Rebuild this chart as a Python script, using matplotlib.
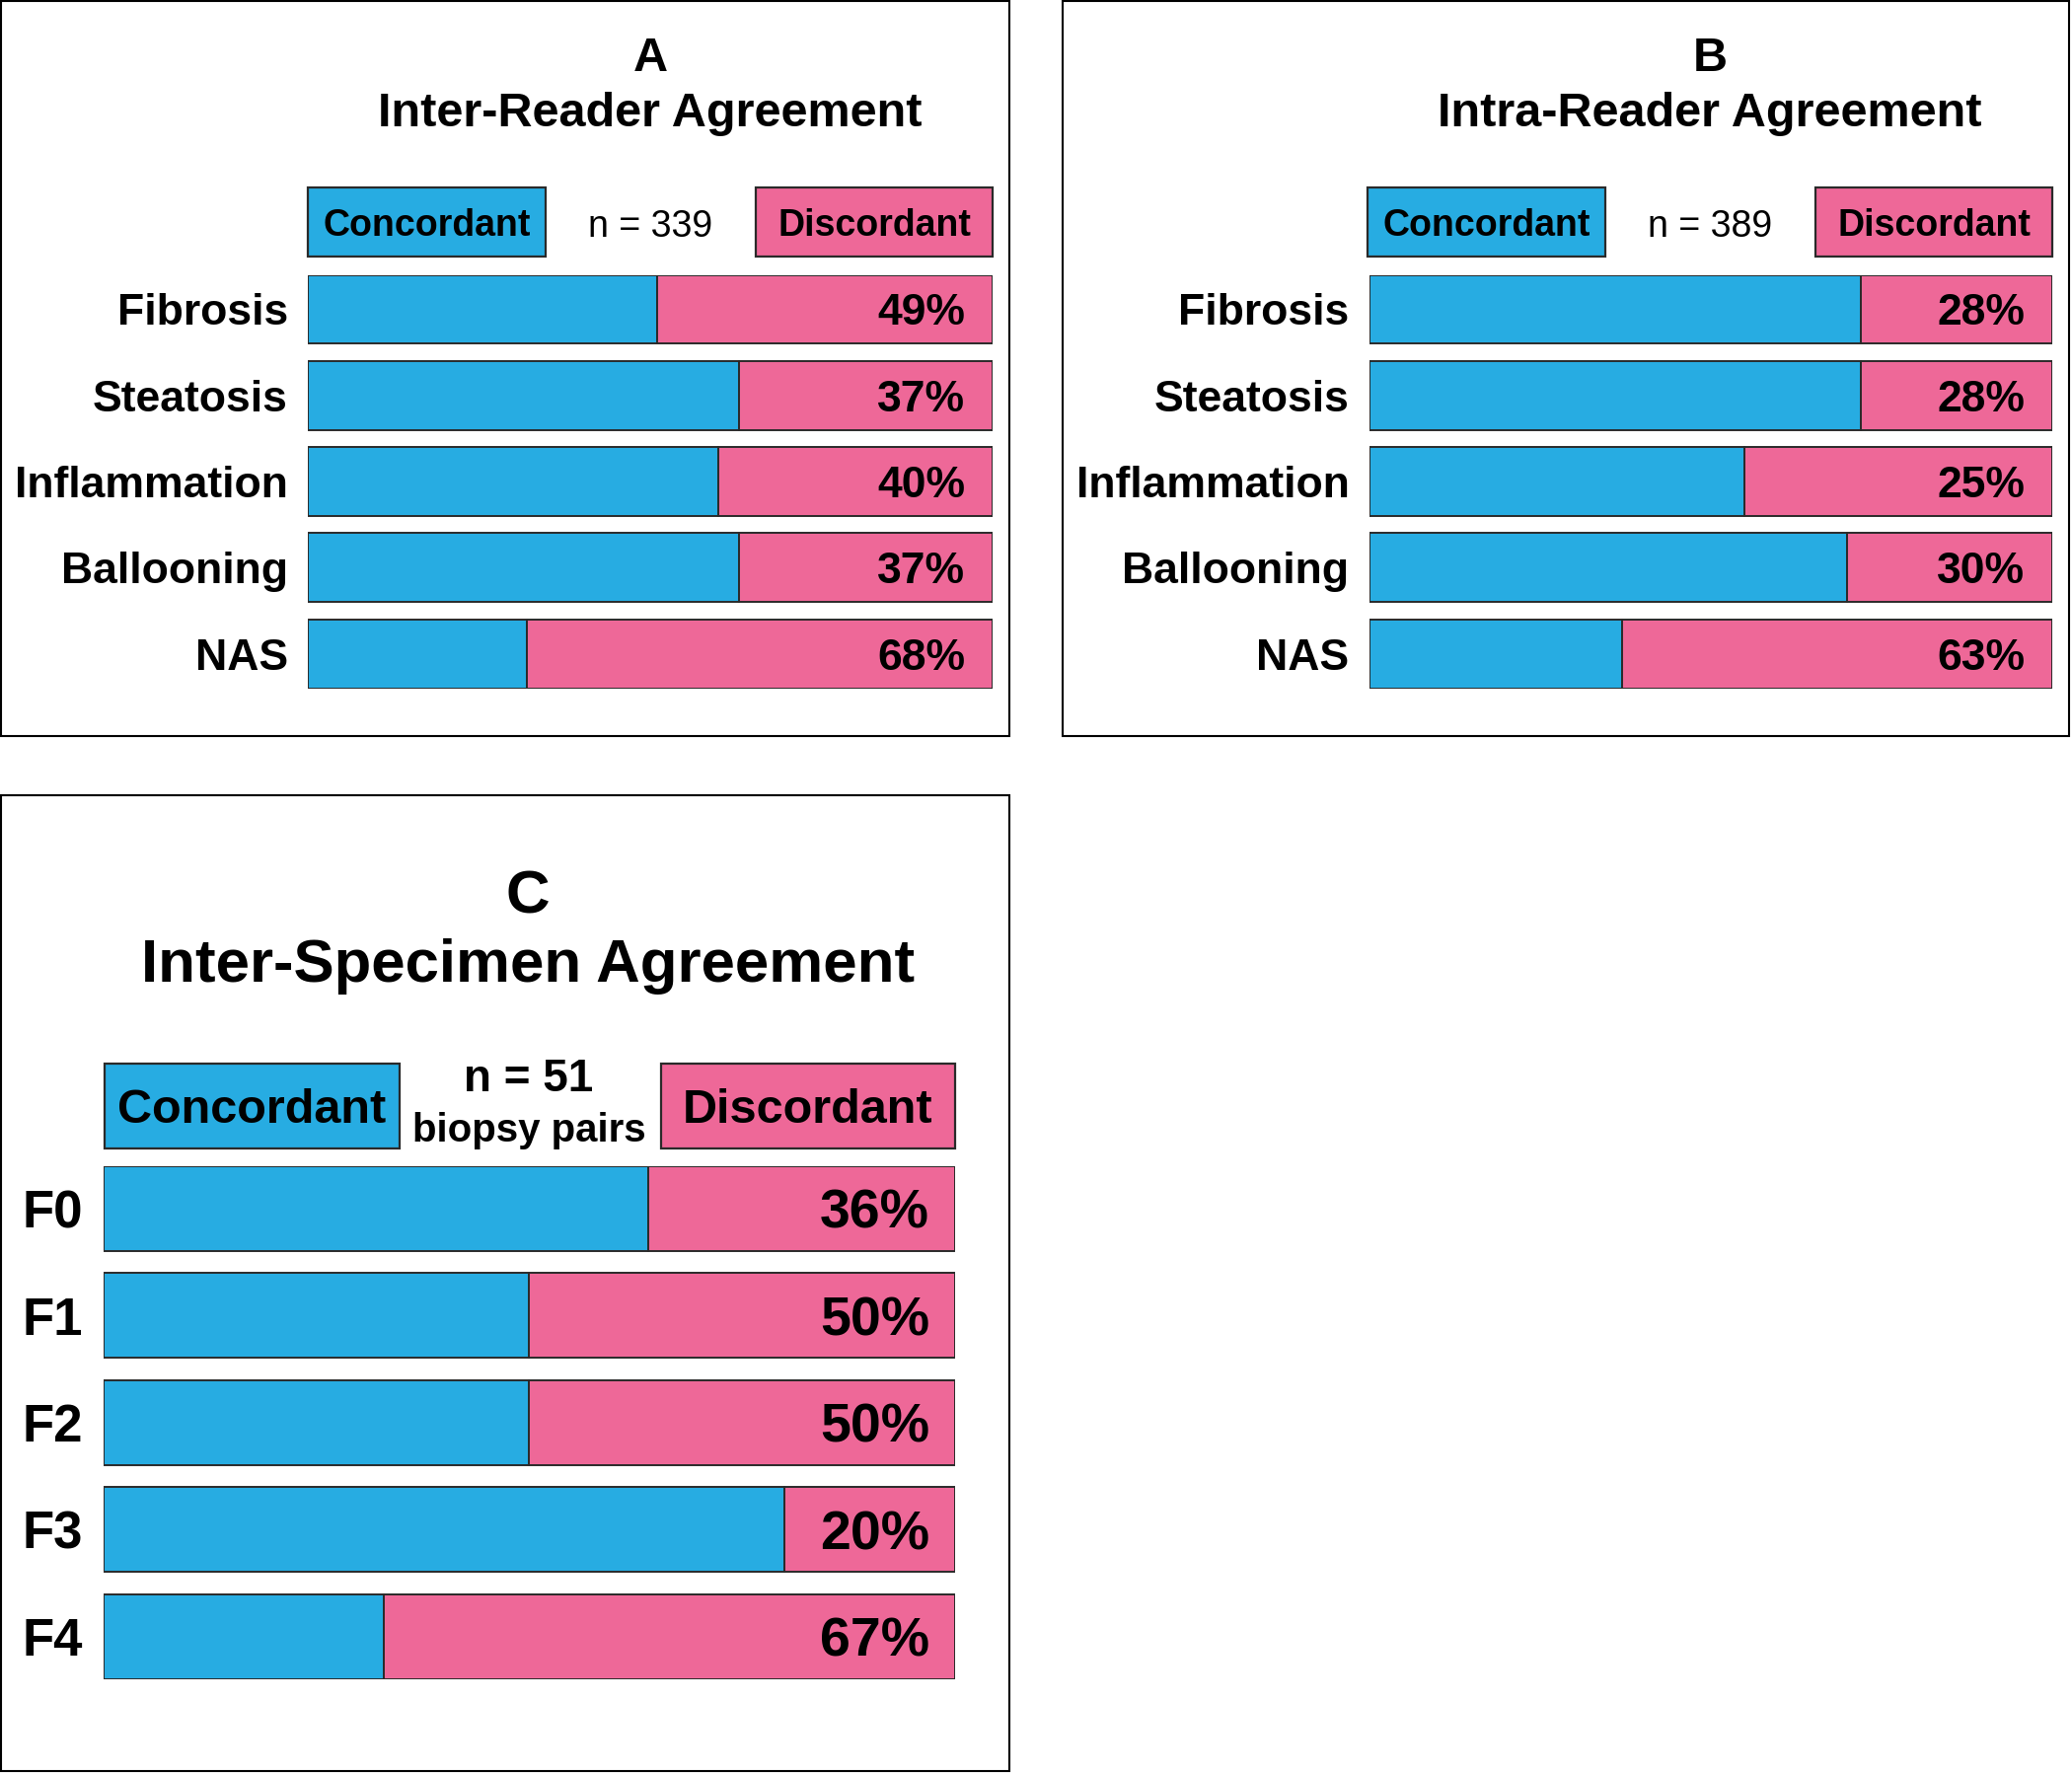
import numpy as np
import matplotlib
matplotlib.use('Agg')
import matplotlib.pyplot as plt
from matplotlib.patches import Rectangle

# Data
reader_rows = ['Fibrosis', 'Steatosis', 'Inflammation', 'Ballooning', 'NAS']
inter_reader_disc = [49, 37, 40, 37, 68]
inter_reader_labels = ['49%', '37%', '40%', '37%', '68%']
intra_reader_disc = [28, 28, 45, 30, 63]          # bar split as drawn
intra_reader_labels = ['28%', '28%', '25%', '30%', '63%']
specimen_rows = ['F0', 'F1', 'F2', 'F3', 'F4']
specimen_disc = [36, 50, 50, 20, 67]
specimen_labels = ['36%', '50%', '50%', '20%', '67%']
n_inter, n_intra, n_specimen = 339, 389, 51

BLUE = '#27ACE2'
PINK = '#EE6898'
EDGE = '#2a2a2a'
FONT = 'Liberation Sans'

W, H = 2100, 1798
fig = plt.figure(figsize=(W / 100, H / 100), dpi=100)
plt.rcParams['font.family'] = [FONT, 'DejaVu Sans']

# overlay axes in reference pixel coordinates for frames, titles, legends
ov = fig.add_axes([0, 0, 1, 1])
ov.set_xlim(0, W)
ov.set_ylim(H, 0)
ov.axis('off')

VA = 'center_baseline'


def px_axes(x0, y0, x1, y1):
    return fig.add_axes([x0 / W, 1 - y1 / H, (x1 - x0) / W, (y1 - y0) / H])


def legend_box(x0, y0, x1, y1, color, text, size):
    ov.add_patch(Rectangle((x0, y0), x1 - x0, y1 - y0, facecolor=color,
                           edgecolor=EDGE, linewidth=1.6))
    ov.text((x0 + x1) / 2, (y0 + y1) / 2, text, ha='center', va=VA,
            fontsize=size, fontweight='bold')


def panel(frame, letter_xy, title_y, title, title_size, bar_box, rows, disc,
          labels, label_size, pct_size, label_x, pct_x, height):
    fx0, fy0, fx1, fy1 = frame
    ov.add_patch(Rectangle((fx0, fy0), fx1 - fx0, fy1 - fy0, facecolor='none',
                           edgecolor='black', linewidth=1.5))
    ov.text(letter_xy[0], letter_xy[1], title.split('\n')[0], ha='center',
            va=VA, fontsize=title_size, fontweight='bold')
    ov.text(letter_xy[0], title_y, title.split('\n')[1], ha='center',
            va=VA, fontsize=title_size, fontweight='bold')

    ax = px_axes(*bar_box)
    y = np.arange(len(rows))
    disc = np.array(disc)
    conc = 100 - disc
    ax.barh(y, conc, height=height, color=BLUE, edgecolor=EDGE, linewidth=1.4)
    ax.barh(y, disc, left=conc, height=height, color=PINK, edgecolor=EDGE,
            linewidth=1.4)
    half = height / 2
    ax.set_xlim(0, 100)
    ax.set_ylim(len(rows) - 1 + half, -half)
    ax.axis('off')
    for yi, lab in zip(y, labels):
        ax.text(pct_x, yi, lab, ha='right', va=VA, fontsize=pct_size,
                fontweight='bold')
    # row names to the left of the bars
    for yi, name in zip(y, rows):
        ax.annotate(name, xy=(0, yi), xycoords='data',
                    xytext=(label_x - bar_box[0], 0),
                    textcoords='offset pixels', ha='right', va=VA,
                    fontsize=label_size, fontweight='bold')
    return ax


# Panel A
panel((1, 1, 1023, 746), (659, 54), 110, 'A\nInter-Reader Agreement', 35,
      (312, 278.5, 1006, 697.5), reader_rows, inter_reader_disc,
      inter_reader_labels, 32, 32, 292, 96.0, 0.8)
legend_box(312, 190, 553, 260, BLUE, 'Concordant', 27)
legend_box(766, 190, 1006, 260, PINK, 'Discordant', 27)
ov.text(659, 226, 'n = %d' % n_inter, ha='center', va=VA, fontsize=27)

# Panel B
panel((1077, 1, 2097, 746), (1733, 54), 110, 'B\nIntra-Reader Agreement', 35,
      (1387.5, 278.5, 2080, 697.5), reader_rows, intra_reader_disc,
      intra_reader_labels, 32, 32, 1367.5, 96.0, 0.8)
legend_box(1386, 190, 1627, 260, BLUE, 'Concordant', 27)
legend_box(1840, 190, 2080, 260, PINK, 'Discordant', 27)
ov.text(1733, 226, 'n = %d' % n_intra, ha='center', va=VA, fontsize=27)

# Panel C
panel((1, 806, 1023, 1795), (535, 904), 973, 'C\nInter-Specimen Agreement',
      44.5, (104.5, 1182, 968, 1701.6), specimen_rows, specimen_disc,
      specimen_labels, 38, 40, 84, 97.0, 0.79)
legend_box(106, 1078, 404.5, 1163.5, BLUE, 'Concordant', 35)
legend_box(670, 1078, 968, 1163.5, PINK, 'Discordant', 35)
ov.text(536, 1089, 'n = %d' % n_specimen, ha='center', va=VA,
        fontsize=33, fontweight='bold')
ov.text(536, 1142, 'biopsy pairs', ha='center', va=VA, fontsize=29,
        fontweight='bold')

plt.savefig('out.png', dpi=100)
